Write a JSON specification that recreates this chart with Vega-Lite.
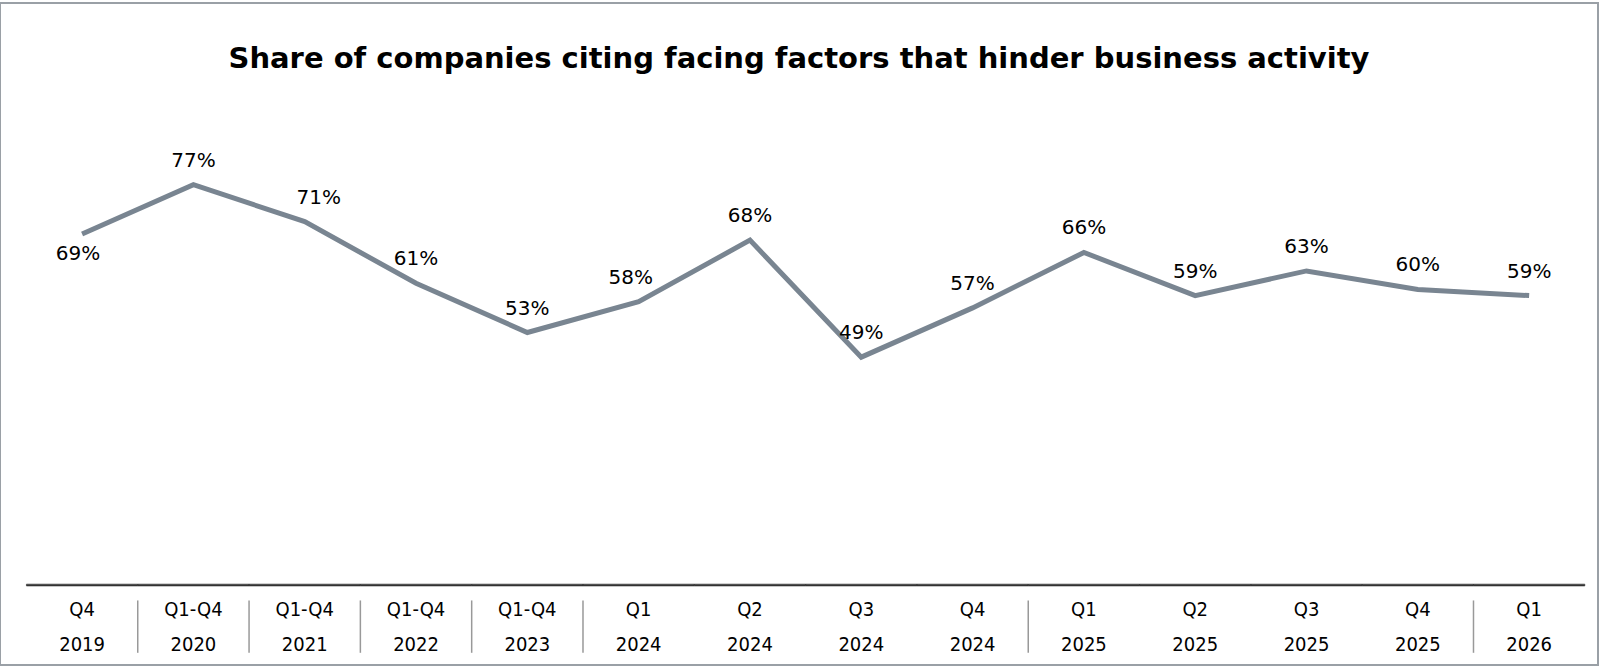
{
  "$schema": "https://vega.github.io/schema/vega-lite/v6.json",
  "width": 1598,
  "height": 662,
  "autosize": "none",
  "padding": {"left": 0, "top": 3, "right": 2, "bottom": 2},
  "background": "white",
  "title": {
    "text": "Share of companies citing facing factors that hinder business activity",
    "font": "DejaVu Sans",
    "fontSize": 29,
    "fontWeight": "bold",
    "color": "#000000",
    "anchor": "middle",
    "frame": "group",
    "baseline": "middle",
    "offset": -85
  },
  "config": {"view": {"stroke": "#9aa0a6", "strokeWidth": 2}},
  "data": {
    "values": [
      {"period": "Q4 2019", "share": 69},
      {"period": "Q1-Q4 2020", "share": 77},
      {"period": "Q1-Q4 2021", "share": 71},
      {"period": "Q1-Q4 2022", "share": 61},
      {"period": "Q1-Q4 2023", "share": 53},
      {"period": "Q1 2024", "share": 58},
      {"period": "Q2 2024", "share": 68},
      {"period": "Q3 2024", "share": 49},
      {"period": "Q4 2024", "share": 57},
      {"period": "Q1 2025", "share": 66},
      {"period": "Q2 2025", "share": 59},
      {"period": "Q3 2025", "share": 63},
      {"period": "Q4 2025", "share": 60},
      {"period": "Q1 2026", "share": 59}
    ]
  },
  "encoding": {
    "x": {
      "field": "period",
      "type": "ordinal",
      "sort": null,
      "scale": {"type": "band", "paddingInner": 0, "paddingOuter": 0.178, "align": 0.667},
      "axis": {
        "title": null,
        "orient": "bottom",
        "offset": -80,
        "domain": false,
        "ticks": false,
        "labelAngle": 0,
        "labelExpr": "split(datum.label, ' ')",
        "labelFont": "DejaVu Sans Condensed",
        "labelFontSize": 20,
        "labelColor": "#000000",
        "labelLineHeight": 35,
        "labelPadding": 14,
        "labelBaseline": "top"
      }
    },
    "y": {
      "field": "share",
      "type": "quantitative",
      "scale": {"domain": [-0.98, 106.5], "nice": false, "zero": false},
      "axis": null
    }
  },
  "layer": [
    {
      "mark": {"type": "bar", "color": "#333333", "stroke": "#333333", "strokeWidth": 0.6},
      "encoding": {
        "y": {"datum": 12.15},
        "y2": {"datum": 11.85}
      }
    },
    {
      "mark": {"type": "line", "color": "#798591", "strokeWidth": 5, "strokeJoin": "miter"}
    },
    {
      "transform": [{"filter": {"field": "period", "oneOf": ["Q4 2019"]}}, {"calculate": "datum.share + '%'", "as": "lbl"}],
      "mark": {"type": "text", "font": "DejaVu Sans", "fontSize": 20, "color": "#000000", "baseline": "middle", "dy": 20, "dx": -4},
      "encoding": {"text": {"field": "lbl", "type": "nominal"}}
    },
    {
      "transform": [{"filter": {"field": "period", "oneOf": ["Q1-Q4 2021"]}}, {"calculate": "datum.share + '%'", "as": "lbl"}],
      "mark": {"type": "text", "font": "DejaVu Sans", "fontSize": 20, "color": "#000000", "baseline": "middle", "dy": -24, "dx": 14},
      "encoding": {"text": {"field": "lbl", "type": "nominal"}}
    },
    {
      "transform": [{"filter": {"field": "period", "oneOf": ["Q1 2024"]}}, {"calculate": "datum.share + '%'", "as": "lbl"}],
      "mark": {"type": "text", "font": "DejaVu Sans", "fontSize": 20, "color": "#000000", "baseline": "middle", "dy": -24, "dx": -8},
      "encoding": {"text": {"field": "lbl", "type": "nominal"}}
    },
    {
      "transform": [{"filter": {"not": {"field": "period", "oneOf": ["Q4 2019", "Q1-Q4 2021", "Q1 2024"]}}}, {"calculate": "datum.share + '%'", "as": "lbl"}],
      "mark": {"type": "text", "font": "DejaVu Sans", "fontSize": 20, "color": "#000000", "baseline": "middle", "dy": -24},
      "encoding": {"text": {"field": "lbl", "type": "nominal"}}
    },
    {
      "transform": [{"filter": {"field": "period", "oneOf": ["Q1-Q4 2020", "Q1-Q4 2021", "Q1-Q4 2022", "Q1-Q4 2023", "Q1 2024", "Q1 2025", "Q1 2026"]}}],
      "mark": {"type": "rule", "color": "#999999", "strokeWidth": 1.5},
      "encoding": {
        "x": {"field": "period", "type": "ordinal", "sort": null, "bandPosition": 0},
        "y": {"datum": 9.5},
        "y2": {"datum": 1}
      }
    }
  ]
}
